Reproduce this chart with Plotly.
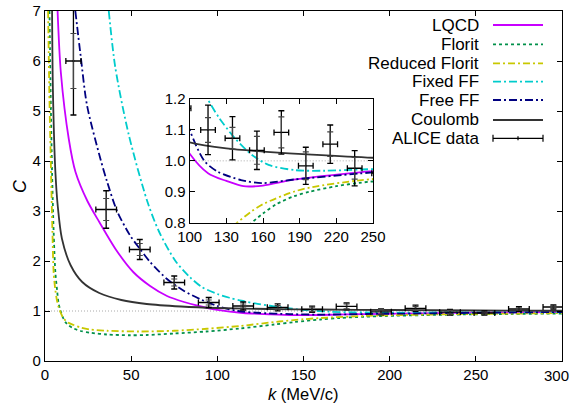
import plotly.graph_objects as go

# ---------------- data ----------------
k_data = [16.5, 35.5, 55, 75, 95, 115, 135, 155, 175, 195, 215, 235, 255, 275, 295]
C_data = [6.0, 3.03, 2.23, 1.57, 1.17, 1.10, 1.073, 1.034, 1.092, 0.984, 1.054, 0.976, 0.96, 1.04, 1.08]
k_err = [4.4, 6, 6, 6, 6, 6, 6, 6, 6, 6, 6, 6, 6, 6, 6]
C_err_tot = [1.08, 0.375, 0.2, 0.13, 0.1, 0.08, 0.07, 0.062, 0.07, 0.06, 0.062, 0.057, 0.04, 0.045, 0.04]
C_err_stat = [0.55, 0.22, 0.12, 0.07, 0.05, 0.04, 0.035, 0.045, 0.05, 0.045, 0.04, 0.035, 0.02, 0.02, 0.02]

k_lqcd = [7.3, 9.2, 13.8, 17.7, 24.6, 31.5, 41.3, 51.2, 61, 70.8, 80.7, 90.5, 100, 115, 130, 144, 160, 185, 239, 300]
C_lqcd = [7.0, 5.77, 4.44, 3.78, 3.2, 2.78, 2.22, 1.78, 1.5, 1.3, 1.18, 1.09, 1.023, 0.96, 0.935, 0.918, 0.92, 0.939, 0.963, 0.98]

k_florit = [2.6, 3.3, 4.1, 5.0, 6.0, 7.0, 7.9, 8.9, 10.3, 11.8, 13.8, 16.7, 20.7, 26.5, 36, 49, 59, 75, 93.5, 113, 133, 145, 160, 171, 185, 198, 220, 239, 270, 300]
C_florit = [7.0, 5.3, 3.78, 2.6, 1.78, 1.42, 1.15, 1.02, 0.88, 0.78, 0.71, 0.65, 0.6, 0.565, 0.53, 0.515, 0.52, 0.55, 0.59, 0.65, 0.73, 0.78, 0.83, 0.86, 0.885, 0.90, 0.918, 0.929, 0.94, 0.95]

k_red = [1.8, 2.6, 3.5, 4.3, 5.0, 6.0, 7.0, 7.9, 9.3, 10.8, 13.3, 16.6, 20.7, 26.3, 36, 55, 75, 94, 113, 136, 150, 160, 185, 200, 239, 270, 300]
C_red = [7.0, 5.2, 3.78, 2.6, 1.78, 1.42, 1.2, 1.08, 0.95, 0.85, 0.77, 0.72, 0.67, 0.63, 0.605, 0.59, 0.605, 0.645, 0.70, 0.79, 0.835, 0.86, 0.90, 0.915, 0.937, 0.948, 0.958]

k_fixed = [37, 40.8, 48.5, 59.2, 66, 75.7, 84, 91, 100, 107, 114, 123.4, 137, 151, 164.5, 186, 210, 240, 270, 300]
C_fixed = [7.0, 5.87, 4.54, 3.21, 2.6, 2.0, 1.68, 1.48, 1.34, 1.265, 1.205, 1.143, 1.073, 1.019, 0.987, 0.97, 0.968, 0.972, 0.976, 0.98]

k_free = [17.6, 20.7, 24.4, 32.1, 35.9, 41.8, 49.2, 55.1, 61, 70.8, 80.7, 90.5, 100, 112, 123, 142, 159, 186, 239, 300]
C_free = [7.0, 6.1, 5.11, 4.05, 3.6, 3.0, 2.52, 2.24, 1.98, 1.64, 1.4, 1.23, 1.1, 1.0, 0.965, 0.938, 0.928, 0.94, 0.959, 0.98]

k_coul = [4.1, 4.6, 6.0, 7.4, 9.8, 14.8, 21.6, 31.5, 44.3, 59, 79, 100, 130, 160, 200, 250, 300]
C_coul = [7.0, 5.4, 3.8, 3.1, 2.45, 1.92, 1.58, 1.36, 1.22, 1.14, 1.09, 1.06, 1.04, 1.03, 1.02, 1.01, 1.005]

x_ticks_main = [0, 50, 100, 150, 200, 250, 300]
y_ticks_main = [0, 1, 2, 3, 4, 5, 6, 7]
x_ticks_inset = [100, 130, 160, 190, 220, 250]
y_ticks_inset = [0.8, 0.9, 1.0, 1.1, 1.2]

series = [
    ("LQCD", k_lqcd, C_lqcd, "#c800ff", "solid"),
    ("Florit", k_florit, C_florit, "#00904a", "3px,3px"),
    ("Reduced Florit", k_red, C_red, "#c8c800", "7px,3px,2px,3px"),
    ("Fixed FF", k_fixed, C_fixed, "#00cccc", "8px,3px,2px,3px"),
    ("Free FF", k_free, C_free, "#000080", "8px,3px,2px,3px"),
    ("Coulomb", k_coul, C_coul, "#333333", "solid"),
]

FONT = "Liberation Sans, Arial, sans-serif"
TICK = 15
fig = go.Figure()

# reference lines at C = 1
for xa, ya, x0, x1 in [("x", "y", 0, 300), ("x2", "y2", 100, 250)]:
    fig.add_shape(type="line", xref=xa, yref=ya, x0=x0, x1=x1, y0=1, y1=1,
                  line=dict(color="#aaaaaa", width=1, dash="1px,2px"), layer="below")

for xa, ya in [("x", "y"), ("x2", "y2")]:
    for name, kx, cy, col, dash in series:
        fig.add_trace(go.Scatter(x=kx, y=cy, mode="lines", name=name, xaxis=xa, yaxis=ya,
                                 line=dict(color=col, width=1.8, dash=dash, shape="spline", smoothing=0.8),
                                 showlegend=False, hoverinfo="skip"))
    # total errors
    fig.add_trace(go.Scatter(x=k_data, y=C_data, mode="markers", xaxis=xa, yaxis=ya, showlegend=False,
                             marker=dict(color="black", size=2), hoverinfo="skip",
                             error_x=dict(type="data", array=k_err, color="black", thickness=1.3, width=3),
                             error_y=dict(type="data", array=C_err_tot, color="black", thickness=1.3, width=3)))
    # statistical errors
    fig.add_trace(go.Scatter(x=k_data, y=C_data, mode="markers", xaxis=xa, yaxis=ya, showlegend=False,
                             marker=dict(color="black", size=1), hoverinfo="skip",
                             error_y=dict(type="data", array=C_err_stat, color="#444444", thickness=1.2, width=3)))

# ---------------- manual gnuplot-style legend ----------------
L, R, T, B = 45, 562, 11, 361
def px(x):
    return (x - L) / (R - L)
def py(y):
    return (B - y) / (B - T)

LEG = 17
rows = [25, 44.3, 63.3, 81.7, 100, 120, 138.3]
for (name, kx, cy, col, dash), yy in zip(series, rows):
    fig.add_annotation(xref="paper", yref="paper", x=px(481), y=py(yy), text=name, showarrow=False,
                       xanchor="right", yanchor="middle", font=dict(family=FONT, size=LEG, color="black"))
    fig.add_shape(type="line", xref="paper", yref="paper", x0=px(493), x1=px(543), y0=py(yy), y1=py(yy),
                  line=dict(color=col, width=1.8, dash=dash))
yy = rows[-1]
fig.add_annotation(xref="paper", yref="paper", x=px(481), y=py(yy), text="ALICE data", showarrow=False,
                   xanchor="right", yanchor="middle", font=dict(family=FONT, size=LEG, color="black"))
fig.add_shape(type="line", xref="paper", yref="paper", x0=px(493), x1=px(543), y0=py(yy), y1=py(yy),
              line=dict(color="black", width=1.2))
for xx, h in [(493, 3.5), (543, 3.5), (518, 2)]:
    fig.add_shape(type="line", xref="paper", yref="paper", x0=px(xx), x1=px(xx), y0=py(yy - h), y1=py(yy + h),
                  line=dict(color="black", width=1.2))

# axis titles
fig.add_annotation(xref="paper", yref="paper", x=px(303), y=py(393.5), text="<i>k</i> (MeV/c)", showarrow=False,
                   xanchor="center", yanchor="middle", font=dict(family=FONT, size=16.5, color="black"))
fig.add_annotation(xref="paper", yref="paper", x=px(20), y=py(186), text="<i>C</i>", showarrow=False,
                   textangle=-90, xanchor="center", yanchor="middle", font=dict(family=FONT, size=18, color="black"))
# last x tick label sits at the right edge of the picture
fig.add_annotation(xref="paper", yref="paper", x=px(571), y=py(375.5), text=str(x_ticks_main[-1]), showarrow=False,
                   xanchor="right", yanchor="middle", font=dict(family=FONT, size=TICK, color="black"))

axis_common = dict(showline=True, linecolor="black", linewidth=1.2, mirror="allticks", ticks="inside",
                   ticklen=5, tickcolor="black", showgrid=False, zeroline=False, automargin=False,
                   tickfont=dict(family=FONT, size=TICK, color="black"))

fig.update_layout(
    template="none",
    width=572, height=403, margin=dict(l=L, r=572 - R, t=T, b=403 - B, autoexpand=False),
    paper_bgcolor="white", plot_bgcolor="white", showlegend=False, hovermode=False,
    xaxis=dict(range=[0, 300], tickvals=x_ticks_main, ticktext=[str(v) for v in x_ticks_main[:-1]] + [""],
               domain=[0, 1], **axis_common),
    yaxis=dict(range=[0, 7], tickvals=y_ticks_main, domain=[0, 1], **axis_common),
    xaxis2=dict(range=[100, 250], tickvals=x_ticks_inset, anchor="y2",
                domain=[px(189.7), px(373)], **axis_common),
    yaxis2=dict(range=[0.8, 1.2], tickvals=y_ticks_inset, tickformat=".1f", anchor="x2",
                domain=[py(222.7), py(99)], **axis_common),
)

fig.write_html("out.html", config={"displayModeBar": False},
               post_script="document.body.style.margin='0px';document.body.style.padding='0px';")
